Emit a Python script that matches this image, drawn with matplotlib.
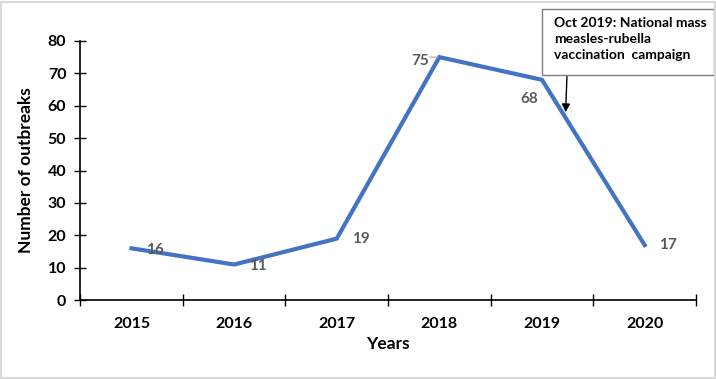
import matplotlib.pyplot as plt
from matplotlib.patches import Rectangle

years = ['2015', '2016', '2017', '2018', '2019', '2020']
outbreaks = [16, 11, 19, 75, 68, 17]
label_offsets = [(17, -1), (17, -1), (17, 0), (-14, -3), (-9, -14), (17, 0)]

plt.rcParams['font.family'] = ['Lato', 'DejaVu Sans']

W, H = 716, 379
fig = plt.figure(figsize=(W / 100, H / 100), dpi=100)
ax = fig.add_axes([0.112, 0.208, 0.860, 0.684])

x = list(range(len(years)))
ax.plot(x, outbreaks, color='#4472C4', linewidth=3, solid_joinstyle='miter')

for i, v in enumerate(outbreaks):
    dx, dy = label_offsets[i]
    ax.annotate(str(v), (x[i], v), xytext=(dx, dy), textcoords='offset points',
                ha='center', va='center', fontsize=11, fontweight='bold', color='#595959')
# leader line for 75
ax.annotate('', (x[3], 75), xytext=(-7, 0), textcoords='offset points',
            arrowprops=dict(arrowstyle='-', color='#A6A6A6', lw=0.8, shrinkA=0, shrinkB=1))

ax.set_xlim(-0.5, len(years) - 0.5)
ax.set_ylim(0, 80)
ax.set_yticks(range(0, 81, 10))
ax.set_xticks(x)
ax.set_xticklabels(years)
ax.set_xticks([i - 0.5 for i in range(len(years) + 1)], minor=True)
ax.tick_params(axis='x', which='major', length=0, pad=12)
ax.tick_params(axis='x', which='minor', direction='inout', length=8, width=1)
ax.tick_params(axis='y', direction='inout', length=8, width=1, pad=6)
for lab in ax.get_xticklabels() + ax.get_yticklabels():
    lab.set_fontweight('bold')
    lab.set_fontsize(11.5)

for s in ['top', 'right']:
    ax.spines[s].set_visible(False)
for s in ['left', 'bottom']:
    ax.spines[s].set_linewidth(1.2)

ax.set_xlabel('Years', fontsize=12.5, fontweight='bold', labelpad=4)
ax.set_ylabel('Number of outbreaks', fontsize=12.5, fontweight='bold', labelpad=10)

# annotation box
fig.patches.append(Rectangle((542 / W, 1 - 75 / H), (714 - 542) / W, 66 / H,
                             transform=fig.transFigure, fc='white', ec='#7F7F7F', lw=1))
fig.text(554 / W, 1 - 17 / H, 'Oct 2019: National mass\nmeasles-rubella\nvaccination  campaign',
         ha='left', va='top', fontsize=10, fontweight='bold', linespacing=1.4)
ax.annotate('', xy=(4.23, 58), xytext=(567, H - 75), textcoords='figure pixels',
            arrowprops=dict(arrowstyle='-|>', color='black', lw=1, mutation_scale=12,
                            shrinkA=0, shrinkB=0))

fig.patches.append(Rectangle((0.002, 0.003), 0.996, 0.993, transform=fig.transFigure,
                             fill=False, ec='#D9D9D9', lw=1.5))

fig.savefig('out.png', dpi=100)
